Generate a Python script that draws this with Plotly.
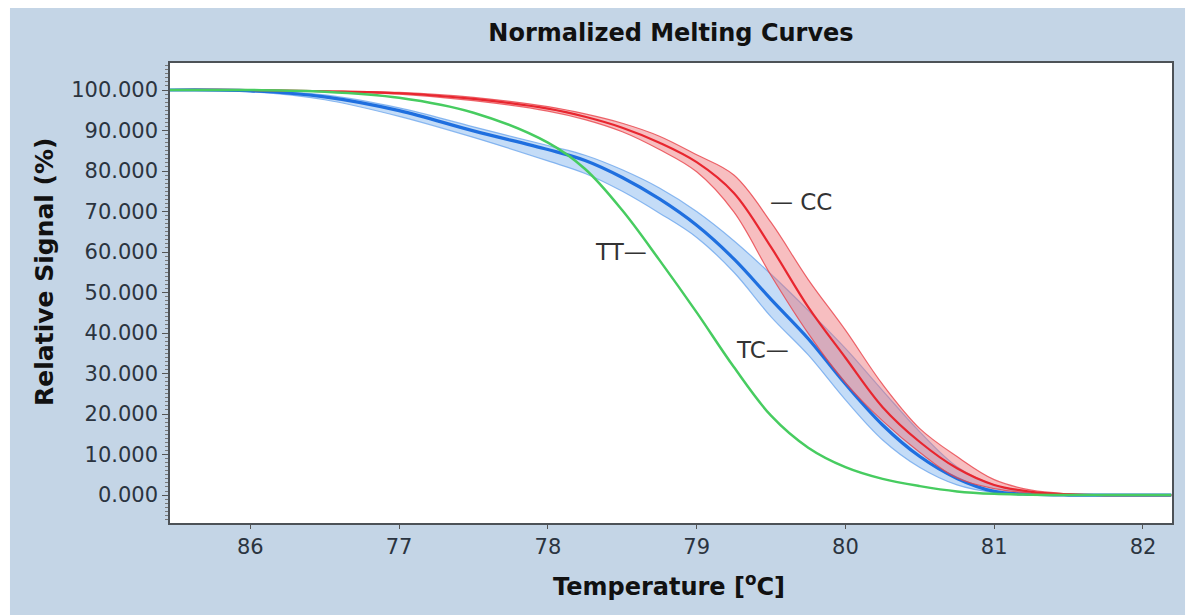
import plotly.graph_objects as go

# ---- data ----
temperature = [75.46, 76.0, 76.5, 77.0, 77.5, 78.0, 78.25, 78.5, 78.75, 79.0, 79.25, 79.5,
               79.75, 80.0, 80.25, 80.5, 80.75, 81.0, 81.25, 81.5, 81.75, 82.0, 82.19]

tt_curve = [100, 100, 99.6, 98.1, 94.4, 87.0, 80.5, 70.3, 58.0, 45.1, 31.6, 19.6,
            11.7, 6.9, 4.0, 2.2, 0.9, 0.3, 0.1, 0, 0, 0, 0]

cc_mid = [100, 100, 99.7, 99.2, 97.8, 95.4, 93.4, 90.7, 87.0, 82.2, 74.6, 61.2,
          46.4, 33.9, 21.7, 13.1, 6.6, 2.5, 0.8, 0.2, 0, 0, 0]
cc_low = [100, 100, 99.6, 99.0, 97.4, 94.8, 92.7, 89.7, 85.3, 79.8, 69.9, 54.2,
          39.9, 27.7, 18.3, 10.5, 4.2, 1.6, 0.5, 0.1, 0, 0, 0]
cc_high = [100, 100, 99.8, 99.4, 98.2, 95.9, 94.1, 91.8, 88.6, 84.0, 79.0, 67.3,
           53.2, 40.7, 27.3, 16.4, 9.5, 3.8, 1.2, 0.3, 0, 0, 0]

tc_mid = [100, 99.8, 98.3, 94.9, 89.9, 85.3, 82.6, 78.4, 73.1, 66.6, 58.3, 48.3,
          38.6, 27.4, 17.3, 9.5, 4.1, 0.9, 0.2, 0, 0, 0, 0]
tc_high = [100, 99.9, 98.8, 95.6, 90.9, 86.3, 83.9, 80.3, 75.8, 70.0, 62.8, 54.5,
           45.6, 36.2, 25.8, 15.6, 7.0, 2.5, 0.6, 0.1, 0, 0, 0]
tc_low = [100, 99.6, 97.6, 93.5, 88.3, 82.5, 79.4, 75.0, 69.6, 63.6, 55.0, 44.0,
          34.6, 23.5, 13.6, 6.8, 2.5, 0.6, 0.1, 0, 0, 0, 0]

x_tick_vals = [76, 77, 78, 79, 80, 81, 82]
x_tick_text = ["86", "77", "78", "79", "80", "81", "82"]
y_tick_vals = [0, 10, 20, 30, 40, 50, 60, 70, 80, 90, 100]

labels = [("\u2014 CC", 79.70, 72.3), ("TT\u2014", 78.49, 60.0), ("TC\u2014", 79.44, 35.8)]

FONT = "DejaVu Sans"
BG = "#c4d5e6"

fig = go.Figure()

def band(low, high, fill, edge):
    fig.add_trace(go.Scatter(x=temperature, y=low, mode="lines",
                             line=dict(color=edge, width=1.2, shape="spline"),
                             hoverinfo="skip", showlegend=False))
    fig.add_trace(go.Scatter(x=temperature, y=high, mode="lines", fill="tonexty",
                             fillcolor=fill,
                             line=dict(color=edge, width=1.2, shape="spline"),
                             hoverinfo="skip", showlegend=False))

# TC (blue) bundle
band(tc_low, tc_high, "rgba(125,178,238,0.45)", "rgba(95,158,235,0.7)")
fig.add_trace(go.Scatter(x=temperature, y=tc_mid, mode="lines", name="TC",
                         line=dict(color="#1f6fdf", width=3.2, shape="spline"),
                         showlegend=False))
# CC (red) bundle
band(cc_low, cc_high, "rgba(238,110,115,0.45)", "rgba(232,65,72,0.8)")
fig.add_trace(go.Scatter(x=temperature, y=cc_mid, mode="lines", name="CC",
                         line=dict(color="#e8262f", width=2.2, shape="spline"),
                         showlegend=False))
# TT (green)
fig.add_trace(go.Scatter(x=temperature, y=tt_curve, mode="lines", name="TT",
                         line=dict(color="#47cc60", width=2.5, shape="spline"),
                         showlegend=False))

for text, xv, yv in labels:
    fig.add_annotation(x=xv, y=yv, text=text, showarrow=False,
                       font=dict(family=FONT, size=23, color="#333333"),
                       xanchor="center", yanchor="middle")

# axis titles
fig.add_annotation(x=-0.1248, y=0.5457, xref="paper", yref="paper",
                   text="<b>Relative Signal (%)</b>", textangle=-90, showarrow=False,
                   font=dict(family=FONT, size=25, color="#111111"),
                   xanchor="center", yanchor="middle")
fig.add_annotation(x=0.4985, y=-0.1348, xref="paper", yref="paper",
                   text="<b>Temperature [<sup>o</sup>C]</b>", showarrow=False,
                   font=dict(family=FONT, size=24, color="#111111"),
                   xanchor="center", yanchor="middle")

# backgrounds
fig.add_shape(type="rect", xref="paper", yref="paper", x0=-0.1597, x1=1.013,
              y0=-0.25, y1=1.1196, fillcolor=BG, line=dict(width=0), layer="below")
fig.add_shape(type="rect", xref="paper", yref="paper", x0=0, x1=1, y0=0, y1=1,
              fillcolor="white", line=dict(width=0), layer="below")

fig.update_layout(
    width=1188, height=615,
    margin=dict(l=170, r=16, t=63, b=92),
    paper_bgcolor="white", plot_bgcolor="white",
    title=dict(text="<b>Normalized Melting Curves</b>", x=0.5, xref="paper",
               y=1 - 33 / 615, yanchor="middle", xanchor="center",
               font=dict(family=FONT, size=24, color="#111111")),
    font=dict(family=FONT, color="#2b3440"),
    showlegend=False,
)
fig.update_xaxes(range=[75.46, 82.195], tickvals=x_tick_vals, ticktext=x_tick_text,
                 ticks="outside", ticklen=4, tickcolor="#555555",
                 tickfont=dict(family=FONT, size=21, color="#2b3440"),
                 showgrid=False, zeroline=False, showline=True, mirror=True,
                 linecolor="#4d5257", linewidth=1.5)
fig.update_yaxes(range=[-6.9, 106.67], tickvals=y_tick_vals, tickformat=".3f",
                 ticks="outside", ticklen=6, tickcolor="#555555",
                 minor=dict(dtick=1, ticks="outside", ticklen=3, tickcolor="#777777"),
                 tickfont=dict(family=FONT, size=21, color="#2b3440"),
                 showgrid=False, zeroline=False, showline=True, mirror=True,
                 linecolor="#4d5257", linewidth=1.5)

fig.write_html("out.html", config={"displayModeBar": False},
               post_script="document.body.style.margin='0';")
